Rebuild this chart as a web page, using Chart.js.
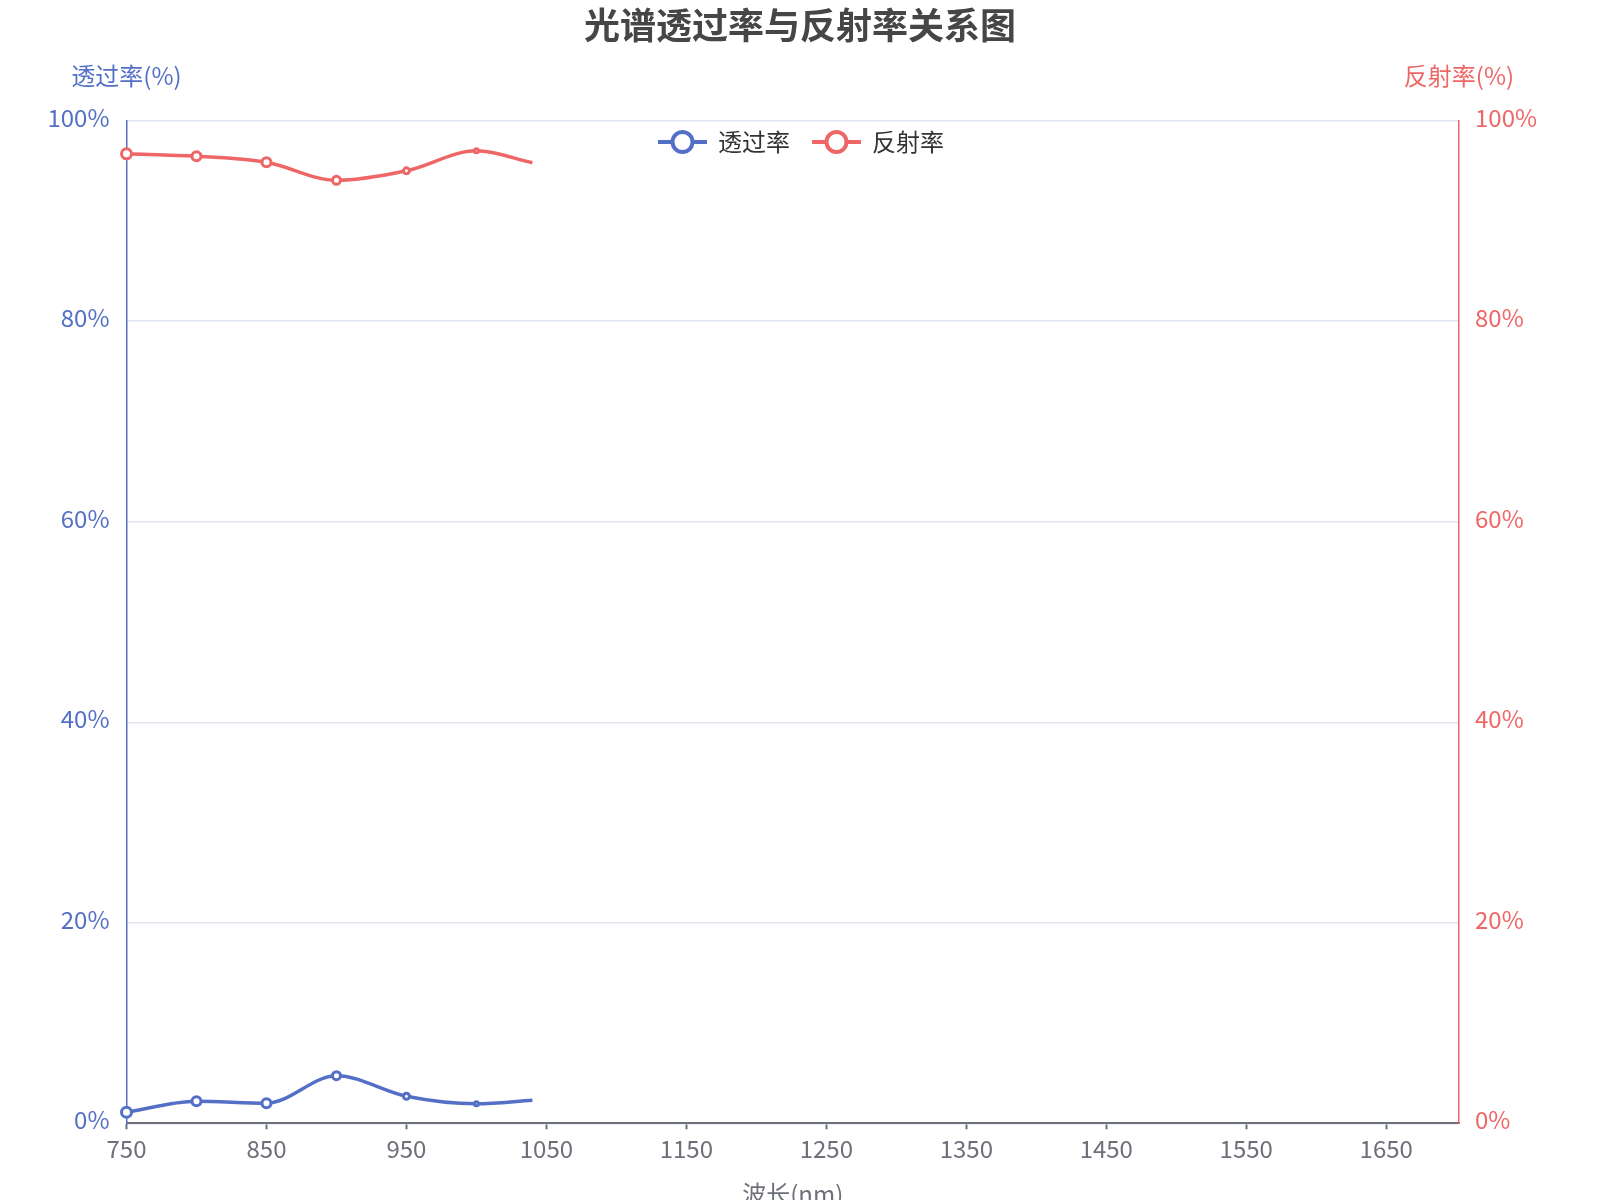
<!DOCTYPE html>
<html>
<head>
<meta charset="utf-8">
<script src="https://cdn.jsdelivr.net/npm/chart.js@4.4.1/dist/chart.umd.min.js"></script>
<style>
  html, body { margin: 0; padding: 0; background: #fff; }
  #wrap { width: 1600px; height: 1200px; }
</style>
</head>
<body>
<div id="wrap"><canvas id="myChart" width="1600" height="1200"></canvas></div>
<script>
// 数据
const wavelengths = [750, 800, 850, 900, 950, 1000, 1040];
const transmittance = [1.1, 2.2, 2.0, 4.75, 2.7, 1.95, 2.3];
const reflectance = [96.7, 96.45, 95.85, 94.05, 95.0, 97.0, 95.8];
const xTicks = [750, 850, 950, 1050, 1150, 1250, 1350, 1450, 1550, 1650];
const yTicks = [0, 20, 40, 60, 80, 100];

const seriesNames = ["透过率", "反射率"];
const chartTitle = "光谱透过率与反射率关系图";
const xName = "波长(nm)";
const yLeftName = "透过率(%)";
const yRightName = "反射率(%)";

const BLUE = "#5470c6";
const RED = "#ee6666";
const AXIS_GRAY = "#6e7079";
const FONT = "'Noto Sans CJK SC', 'Microsoft YaHei', sans-serif";
const markerSizes = [5, 4.5, 4.5, 4, 3, 2, 0];

function toPoints(ys) {
    return wavelengths.map((x, i) => ({ x: x, y: ys[i] }));
}

// 标题、图例、轴名称自己画
const decorations = {
    id: "decorations",
    afterDraw(chart) {
        const ctx = chart.ctx;
        const area = chart.chartArea;
        ctx.save();

        ctx.fillStyle = "#464646";
        ctx.font = "bold 36px " + FONT;
        ctx.textAlign = "center";
        ctx.textBaseline = "middle";
        ctx.fillText(chartTitle, 800, 25);

        ctx.font = "24px " + FONT;
        ctx.fillStyle = BLUE;
        ctx.fillText(yLeftName, area.left, 76);
        ctx.fillStyle = RED;
        ctx.fillText(yRightName, area.right, 76);

        ctx.fillStyle = AXIS_GRAY;
        ctx.fillText(xName, (area.left + area.right) / 2, 1194);

        // 图例
        const items = [
            { name: seriesNames[0], color: BLUE, x: 658 },
            { name: seriesNames[1], color: RED, x: 812 }
        ];
        const ly = 142;
        items.forEach(it => {
            ctx.strokeStyle = it.color;
            ctx.lineWidth = 4;
            ctx.beginPath();
            ctx.moveTo(it.x, ly);
            ctx.lineTo(it.x + 49, ly);
            ctx.stroke();
            ctx.beginPath();
            ctx.arc(it.x + 24.5, ly, 10, 0, Math.PI * 2);
            ctx.fillStyle = "#fff";
            ctx.fill();
            ctx.stroke();
            ctx.fillStyle = "#333";
            ctx.textAlign = "left";
            ctx.fillText(it.name, it.x + 60, ly);
        });
        ctx.restore();
    }
};

const ctx = document.getElementById("myChart").getContext("2d");
new Chart(ctx, {
    type: "line",
    data: {
        datasets: [{
            label: seriesNames[0],
            data: toPoints(transmittance),
            yAxisID: "y",
            borderColor: BLUE,
            backgroundColor: "#fff",
            borderWidth: 3.5,
            pointRadius: markerSizes,
            pointBorderWidth: 3,
            pointBackgroundColor: "#fff",
            pointBorderColor: BLUE,
            cubicInterpolationMode: "monotone",
            clip: false,
        }, {
            label: seriesNames[1],
            data: toPoints(reflectance),
            yAxisID: "y1",
            borderColor: RED,
            backgroundColor: "#fff",
            borderWidth: 3.5,
            pointRadius: markerSizes,
            pointBorderWidth: 3,
            pointBackgroundColor: "#fff",
            pointBorderColor: RED,
            cubicInterpolationMode: "monotone",
            clip: false,
        }],
    },
    options: {
        responsive: false,
        animation: false,
        devicePixelRatio: 1,
        layout: { padding: { top: 120.7, left: 0, right: 0, bottom: 0 } },
        plugins: {
            legend: { display: false },
            title: { display: false },
            tooltip: { enabled: false },
        },
        scales: {
            x: {
                type: "linear",
                min: 750,
                max: 1702,
                afterBuildTicks: s => { s.ticks = xTicks.map(v => ({ value: v })); },
                afterFit: s => { s.height = 76.7; },
                grid: {
                    drawOnChartArea: false,
                    drawTicks: true,
                    tickLength: 6,
                    tickWidth: 2,
                    color: AXIS_GRAY,
                },
                border: { display: true, color: AXIS_GRAY, width: 2 },
                ticks: {
                    color: AXIS_GRAY,
                    font: { size: 24, family: FONT },
                    padding: 5,
                    maxRotation: 0,
                    autoSkip: false,
                    callback: v => String(v),
                },
            },
            y: {
                position: "left",
                min: 0,
                max: 100,
                afterBuildTicks: s => { s.ticks = yTicks.map(v => ({ value: v })); },
                afterFit: s => { s.width = 126.5; },
                grid: { color: "#e0e6f1", lineWidth: 1.5, drawTicks: false },
                border: { display: true, color: BLUE, width: 1.5 },
                ticks: {
                    color: BLUE,
                    font: { size: 24, family: FONT },
                    padding: 17,
                    labelOffset: -3,
                    callback: v => v + "%",
                },
            },
            y1: {
                position: "right",
                min: 0,
                max: 100,
                afterBuildTicks: s => { s.ticks = yTicks.map(v => ({ value: v })); },
                afterFit: s => { s.width = 141; },
                grid: { drawOnChartArea: false, drawTicks: false },
                border: { display: true, color: RED, width: 1.5 },
                ticks: {
                    color: RED,
                    font: { size: 24, family: FONT },
                    padding: 16,
                    labelOffset: -3,
                    callback: v => v + "%",
                },
            },
        },
    },
    plugins: [decorations],
});
</script>
</body>
</html>
